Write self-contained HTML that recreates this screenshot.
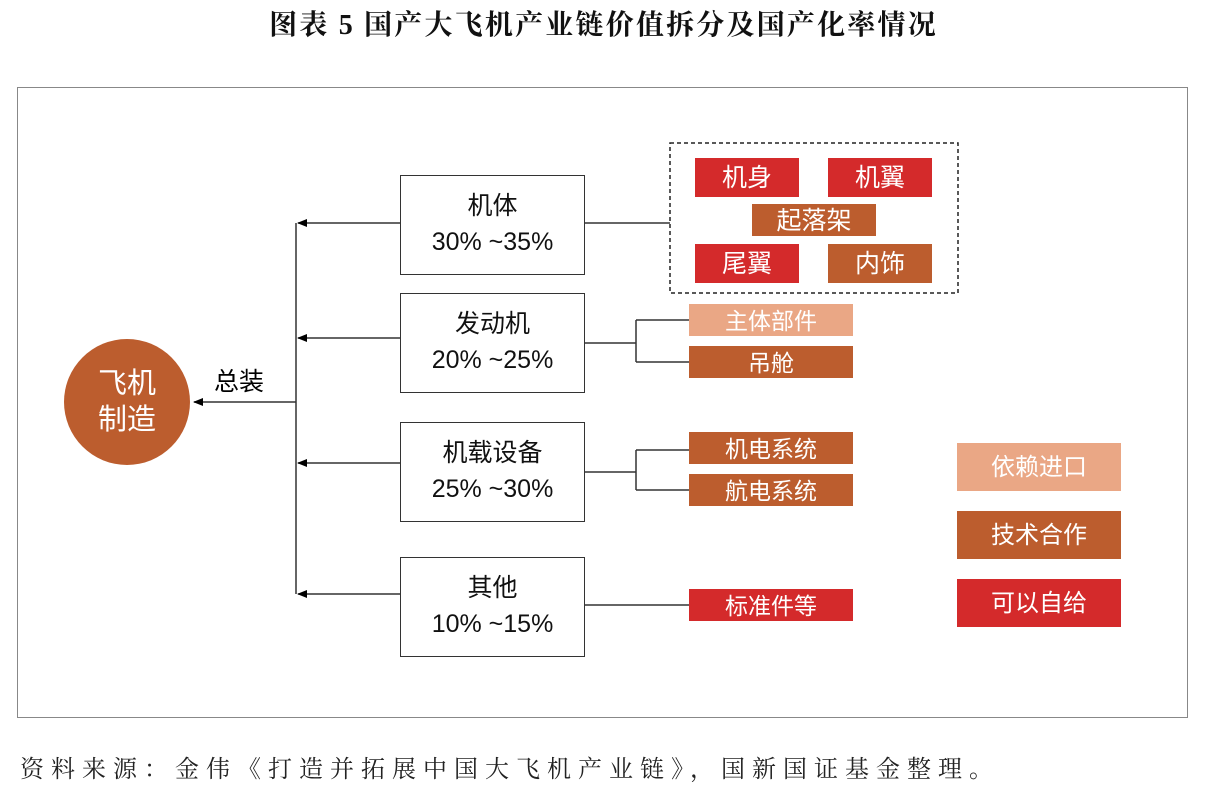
<!DOCTYPE html>
<html><head><meta charset="utf-8"><style>
body{margin:0;width:1207px;height:787px;background:#fff;position:relative;overflow:hidden;font-family:"Liberation Sans","Noto Sans CJK SC",sans-serif}
.a{position:absolute;box-sizing:border-box}
.t{left:0;width:1207px;top:3px;text-align:center;font:bold 28px "Liberation Serif","Noto Serif CJK SC",serif;color:#111;letter-spacing:2.2px}
.f{left:20px;top:749px;font:24px "Liberation Serif","Noto Serif CJK SC",serif;color:#222;letter-spacing:7px}
.box{border:1.5px solid #333;background:#fff;text-align:center;font-size:25px;line-height:36px;padding-top:12px;color:#111}
.c{color:#fff;text-align:center;font-size:23px}
.r{background:#d42a2b}.b{background:#bc5d2e}.l{background:#eaa785}
</style></head><body>
<div class="a t">图表 5  国产大飞机产业链价值拆分及国产化率情况</div>
<div class="a" style="left:17px;top:87px;width:1171px;height:631px;border:1.5px solid #888"></div>
<svg class="a" style="left:0;top:0" width="1207" height="787">
<defs><marker id="m" markerWidth="10" markerHeight="8" refX="9" refY="4" orient="auto" markerUnits="userSpaceOnUse"><path d="M0,0L10,4L0,8z" fill="#000"/></marker></defs>
<g stroke="#333" stroke-width="1.5" fill="none">
<line x1="296" y1="223" x2="296" y2="594"/>
<line x1="400" y1="223" x2="298" y2="223" marker-end="url(#m)"/>
<line x1="400" y1="338" x2="298" y2="338" marker-end="url(#m)"/>
<line x1="400" y1="463" x2="298" y2="463" marker-end="url(#m)"/>
<line x1="400" y1="594" x2="298" y2="594" marker-end="url(#m)"/>
<line x1="296" y1="402" x2="194" y2="402" marker-end="url(#m)"/>
<line x1="584" y1="223" x2="670" y2="223"/>
<path d="M584 343H636M636 320V362M636 320H689M636 362H689"/>
<path d="M584 472H636M636 450V490M636 450H689M636 490H689"/>
<line x1="584" y1="605" x2="689" y2="605"/>
<rect x="670" y="143" width="288" height="150" stroke="#222" stroke-dasharray="4,3"/>
</g>
<circle cx="127" cy="402" r="63" fill="#bc5d2e"/>
</svg>
<div class="a c" style="left:64px;top:366px;width:126px;font-size:29px;line-height:36px">飞机<br>制造</div>
<div class="a" style="left:214px;top:362px;font-size:25px">总装</div>
<div class="a box" style="left:400px;top:175px;width:185px;height:100px">机体<br>30% ~35%</div>
<div class="a box" style="left:400px;top:293px;width:185px;height:100px">发动机<br>20% ~25%</div>
<div class="a box" style="left:400px;top:422px;width:185px;height:100px">机载设备<br>25% ~30%</div>
<div class="a box" style="left:400px;top:557px;width:185px;height:100px">其他<br>10% ~15%</div>
<div class="a c r" style="left:695px;top:158px;width:104px;height:39px;line-height:41px;font-size:25px">机身</div>
<div class="a c r" style="left:828px;top:158px;width:104px;height:39px;line-height:41px;font-size:25px">机翼</div>
<div class="a c b" style="left:752px;top:204px;width:124px;height:32px;line-height:34px;font-size:25px">起落架</div>
<div class="a c r" style="left:695px;top:244px;width:104px;height:39px;line-height:41px;font-size:25px">尾翼</div>
<div class="a c b" style="left:828px;top:244px;width:104px;height:39px;line-height:41px;font-size:25px">内饰</div>
<div class="a c l" style="left:689px;top:304px;width:164px;height:32px;line-height:34px">主体部件</div>
<div class="a c b" style="left:689px;top:346px;width:164px;height:32px;line-height:34px">吊舱</div>
<div class="a c b" style="left:689px;top:432px;width:164px;height:32px;line-height:34px">机电系统</div>
<div class="a c b" style="left:689px;top:474px;width:164px;height:32px;line-height:34px">航电系统</div>
<div class="a c r" style="left:689px;top:589px;width:164px;height:32px;line-height:34px">标准件等</div>
<div class="a c l" style="left:957px;top:443px;width:164px;height:48px;line-height:50px;font-size:24px">依赖进口</div>
<div class="a c b" style="left:957px;top:511px;width:164px;height:48px;line-height:50px;font-size:24px">技术合作</div>
<div class="a c r" style="left:957px;top:579px;width:164px;height:48px;line-height:50px;font-size:24px">可以自给</div>
<div class="a f">资料来源：金伟《打造并拓展中国大飞机产业链》，国新国证基金整理。</div>
</body></html>
